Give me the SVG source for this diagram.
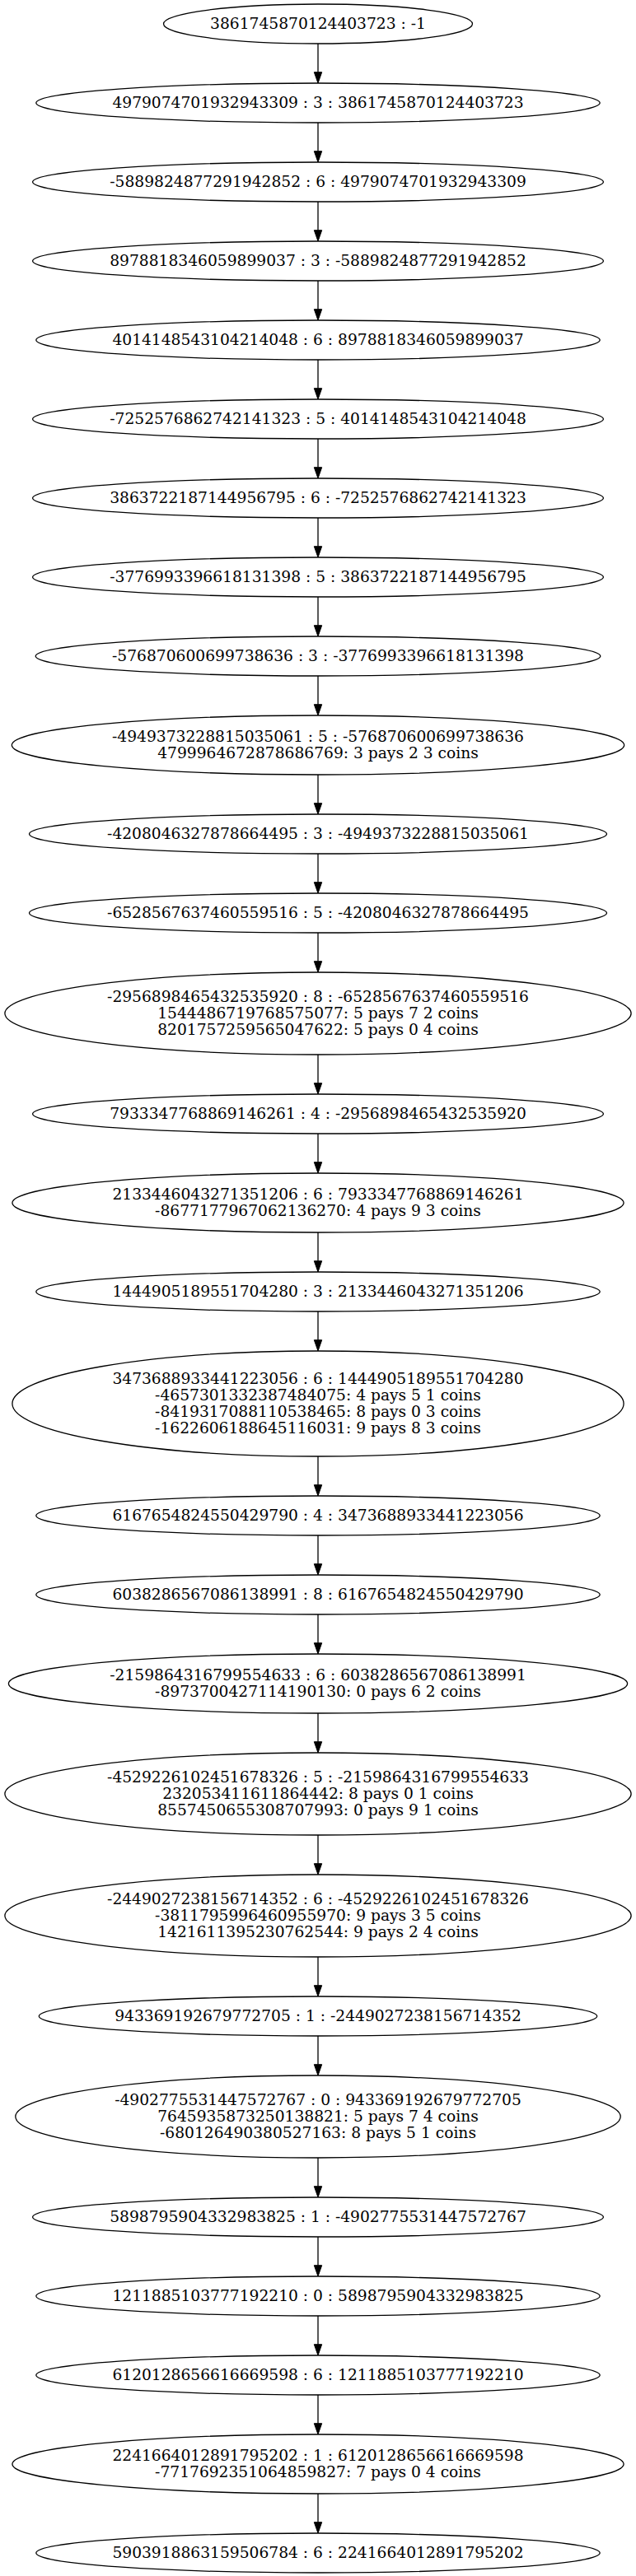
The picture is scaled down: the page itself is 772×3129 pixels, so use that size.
<svg xmlns="http://www.w3.org/2000/svg" width="772" height="3129" viewBox="0 0 772 3129">
<style>
.n ellipse{fill:none;stroke:#000;stroke-width:1.3}
.n text{font-family:"DejaVu Serif",serif;font-size:18.67px;text-anchor:middle;fill:#000}
.e path{fill:none;stroke:#000;stroke-width:1.3;marker-end:url(#arr)}
</style>
<defs>
<marker id="arr" markerUnits="userSpaceOnUse" markerWidth="14" markerHeight="10" refX="0" refY="4.67" orient="auto" overflow="visible">
<path d="M0,0 L13.3,4.67 L0,9.33 z" fill="#000" stroke="#000" stroke-width="1"/>
</marker>
</defs>
<rect width="772" height="3129" fill="#fff"/>
<g id="edges" class="e">
<path d="M386,53V87.7"/>
<path d="M386,149V183.7"/>
<path d="M386,245V279.7"/>
<path d="M386,341V375.7"/>
<path d="M386,437V471.7"/>
<path d="M386,533V567.7"/>
<path d="M386,629V663.7"/>
<path d="M386,725V759.7"/>
<path d="M386,821V855.7"/>
<path d="M386,941V975.7"/>
<path d="M386,1037V1071.7"/>
<path d="M386,1133V1167.7"/>
<path d="M386,1281V1315.7"/>
<path d="M386,1377V1411.7"/>
<path d="M386,1497V1531.7"/>
<path d="M386,1593V1627.7"/>
<path d="M386,1769V1803.7"/>
<path d="M386,1865V1899.7"/>
<path d="M386,1961V1995.7"/>
<path d="M386,2081V2115.7"/>
<path d="M386,2229V2263.7"/>
<path d="M386,2377V2411.7"/>
<path d="M386,2473V2507.7"/>
<path d="M386,2621V2655.7"/>
<path d="M386,2717V2751.7"/>
<path d="M386,2813V2847.7"/>
<path d="M386,2909V2943.7"/>
<path d="M386,3029V3063.7"/>
</g>
<g id="n1" class="n"><ellipse cx="386" cy="29" rx="187.5" ry="24"/><text x="386" y="35">3861745870124403723 : -1</text></g>
<g id="n2" class="n"><ellipse cx="386" cy="125" rx="342.2" ry="24"/><text x="386" y="131">4979074701932943309 : 3 : 3861745870124403723</text></g>
<g id="n3" class="n"><ellipse cx="386" cy="221" rx="346.4" ry="24"/><text x="386" y="227">-5889824877291942852 : 6 : 4979074701932943309</text></g>
<g id="n4" class="n"><ellipse cx="386" cy="317" rx="346.4" ry="24"/><text x="386" y="323">8978818346059899037 : 3 : -5889824877291942852</text></g>
<g id="n5" class="n"><ellipse cx="386" cy="413" rx="342.2" ry="24"/><text x="386" y="419">4014148543104214048 : 6 : 8978818346059899037</text></g>
<g id="n6" class="n"><ellipse cx="386" cy="509" rx="346.4" ry="24"/><text x="386" y="515">-7252576862742141323 : 5 : 4014148543104214048</text></g>
<g id="n7" class="n"><ellipse cx="386" cy="605" rx="346.4" ry="24"/><text x="386" y="611">3863722187144956795 : 6 : -7252576862742141323</text></g>
<g id="n8" class="n"><ellipse cx="386" cy="701" rx="346.4" ry="24"/><text x="386" y="707">-3776993396618131398 : 5 : 3863722187144956795</text></g>
<g id="n9" class="n"><ellipse cx="386" cy="797" rx="342.8" ry="24"/><text x="386" y="803">-576870600699738636 : 3 : -3776993396618131398</text></g>
<g id="n10" class="n"><ellipse cx="386" cy="905" rx="371.7" ry="36"/><text x="386" y="901">-4949373228815035061 : 5 : -576870600699738636</text><text x="386" y="921">4799964672878686769: 3 pays 2 3 coins</text></g>
<g id="n11" class="n"><ellipse cx="386" cy="1013" rx="350.5" ry="24"/><text x="386" y="1019">-4208046327878664495 : 3 : -4949373228815035061</text></g>
<g id="n12" class="n"><ellipse cx="386" cy="1109" rx="350.5" ry="24"/><text x="386" y="1115">-6528567637460559516 : 5 : -4208046327878664495</text></g>
<g id="n13" class="n"><ellipse cx="386" cy="1231" rx="380.1" ry="50"/><text x="386" y="1217">-2956898465432535920 : 8 : -6528567637460559516</text><text x="386" y="1237">1544486719768575077: 5 pays 7 2 coins</text><text x="386" y="1257">8201757259565047622: 5 pays 0 4 coins</text></g>
<g id="n14" class="n"><ellipse cx="386" cy="1353" rx="346.4" ry="24"/><text x="386" y="1359">7933347768869146261 : 4 : -2956898465432535920</text></g>
<g id="n15" class="n"><ellipse cx="386" cy="1461" rx="371.1" ry="36"/><text x="386" y="1457">2133446043271351206 : 6 : 7933347768869146261</text><text x="386" y="1477">-8677177967062136270: 4 pays 9 3 coins</text></g>
<g id="n16" class="n"><ellipse cx="386" cy="1569" rx="342.2" ry="24"/><text x="386" y="1575">1444905189551704280 : 3 : 2133446043271351206</text></g>
<g id="n17" class="n"><ellipse cx="386" cy="1705" rx="371.1" ry="64"/><text x="386" y="1681">3473688933441223056 : 6 : 1444905189551704280</text><text x="386" y="1701">-4657301332387484075: 4 pays 5 1 coins</text><text x="386" y="1721">-8419317088110538465: 8 pays 0 3 coins</text><text x="386" y="1741">-1622606188645116031: 9 pays 8 3 coins</text></g>
<g id="n18" class="n"><ellipse cx="386" cy="1841" rx="342.2" ry="24"/><text x="386" y="1847">6167654824550429790 : 4 : 3473688933441223056</text></g>
<g id="n19" class="n"><ellipse cx="386" cy="1937" rx="342.2" ry="24"/><text x="386" y="1943">6038286567086138991 : 8 : 6167654824550429790</text></g>
<g id="n20" class="n"><ellipse cx="386" cy="2045" rx="375.6" ry="36"/><text x="386" y="2041">-2159864316799554633 : 6 : 6038286567086138991</text><text x="386" y="2061">-8973700427114190130: 0 pays 6 2 coins</text></g>
<g id="n21" class="n"><ellipse cx="386" cy="2179" rx="380.1" ry="50"/><text x="386" y="2165">-4529226102451678326 : 5 : -2159864316799554633</text><text x="386" y="2185">232053411611864442: 8 pays 0 1 coins</text><text x="386" y="2205">8557450655308707993: 0 pays 9 1 coins</text></g>
<g id="n22" class="n"><ellipse cx="386" cy="2327" rx="380.1" ry="50"/><text x="386" y="2313">-2449027238156714352 : 6 : -4529226102451678326</text><text x="386" y="2333">-3811795996460955970: 9 pays 3 5 coins</text><text x="386" y="2353">1421611395230762544: 9 pays 2 4 coins</text></g>
<g id="n23" class="n"><ellipse cx="386" cy="2449" rx="338.7" ry="24"/><text x="386" y="2455">943369192679772705 : 1 : -2449027238156714352</text></g>
<g id="n24" class="n"><ellipse cx="386" cy="2571" rx="367.2" ry="50"/><text x="386" y="2557">-4902775531447572767 : 0 : 943369192679772705</text><text x="386" y="2577">7645935873250138821: 5 pays 7 4 coins</text><text x="386" y="2597">-680126490380527163: 8 pays 5 1 coins</text></g>
<g id="n25" class="n"><ellipse cx="386" cy="2693" rx="346.4" ry="24"/><text x="386" y="2699">5898795904332983825 : 1 : -4902775531447572767</text></g>
<g id="n26" class="n"><ellipse cx="386" cy="2789" rx="342.2" ry="24"/><text x="386" y="2795">1211885103777192210 : 0 : 5898795904332983825</text></g>
<g id="n27" class="n"><ellipse cx="386" cy="2885" rx="342.2" ry="24"/><text x="386" y="2891">6120128656616669598 : 6 : 1211885103777192210</text></g>
<g id="n28" class="n"><ellipse cx="386" cy="2993" rx="371.1" ry="36"/><text x="386" y="2989">2241664012891795202 : 1 : 6120128656616669598</text><text x="386" y="3009">-7717692351064859827: 7 pays 0 4 coins</text></g>
<g id="n29" class="n"><ellipse cx="386" cy="3101" rx="342.2" ry="24"/><text x="386" y="3107">5903918863159506784 : 6 : 2241664012891795202</text></g>
</svg>
